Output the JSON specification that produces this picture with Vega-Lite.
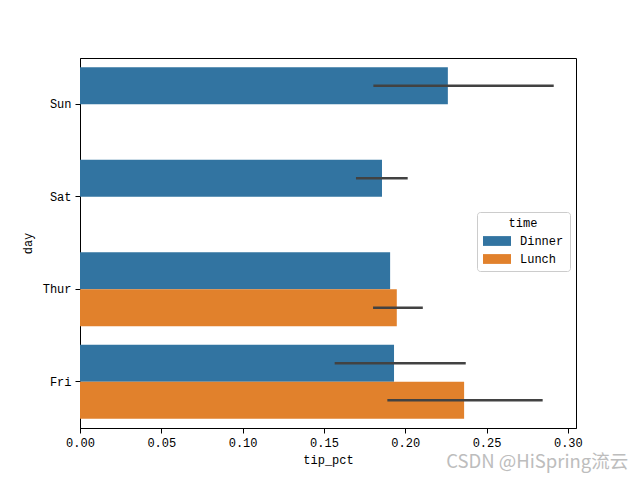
{
  "$schema": "https://vega.github.io/schema/vega-lite/v6.json",
  "width": 496,
  "height": 370,
  "autosize": {"type": "none"},
  "padding": {"left": 80, "top": 58, "right": 64, "bottom": 52},
  "background": "white",
  "title": {"text": "CSDN @HiSpring流云", "orient": "bottom", "anchor": "end", "offset": -12, "color": "#bdbdbd", "fontSize": 18.5, "font": "Noto Sans CJK SC", "fontWeight": "normal", "dx": 46},
  "config": {
    "view": {"stroke": "black", "strokeWidth": 1},
    "font": "Liberation Mono",
    "axis": {"domainColor": "black", "tickColor": "black", "labelColor": "black", "titleColor": "black", "labelFont": "Liberation Mono", "titleFont": "Liberation Mono", "labelFontSize": 12, "titleFontSize": 12, "titleFontWeight": "normal", "tickSize": 5, "grid": false}
  },
  "data": {"values": [
    {"day": "Sun", "time": "Dinner", "tip_pct": 0.2262, "lo": 0.1804, "hi": 0.2913},
    {"day": "Sat", "time": "Dinner", "tip_pct": 0.1857, "lo": 0.1697, "hi": 0.2015},
    {"day": "Thur", "time": "Dinner", "tip_pct": 0.1907, "lo": 0.1907, "hi": 0.1907},
    {"day": "Thur", "time": "Lunch", "tip_pct": 0.1948, "lo": 0.1802, "hi": 0.2108},
    {"day": "Fri", "time": "Dinner", "tip_pct": 0.1931, "lo": 0.1566, "hi": 0.2372},
    {"day": "Fri", "time": "Lunch", "tip_pct": 0.2362, "lo": 0.189, "hi": 0.2845}
  ]},
  "encoding": {
    "y": {"field": "day", "type": "nominal", "sort": ["Sun", "Sat", "Thur", "Fri"],
      "scale": {"domain": ["Sun", "Sat", "Thur", "Fri"], "paddingInner": 0.2, "paddingOuter": 0.1},
      "axis": {"title": "day", "titlePadding": 8, "labelPadding": 4}},
    "yOffset": {"field": "time", "type": "nominal", "scale": {"domain": ["Dinner", "Lunch"], "paddingInner": 0, "paddingOuter": 0}}
  },
  "layer": [
    {
      "mark": {"type": "bar", "cornerRadius": 0},
      "encoding": {
        "x": {"field": "tip_pct", "type": "quantitative", "scale": {"domain": [0, 0.305], "nice": false, "zero": true},
          "axis": {"title": "tip_pct", "values": [0, 0.05, 0.1, 0.15, 0.2, 0.25, 0.3], "format": ".2f", "labelPadding": 4, "titlePadding": 6, "labelFlush": false}},
        "color": {"field": "time", "type": "nominal",
          "scale": {"domain": ["Dinner", "Lunch"], "range": ["#3274a1", "#e1812c"]},
          "legend": {"orient": "none", "legendX": 397, "legendY": 154, "title": "time", "titleAnchor": "middle", "titleFont": "Liberation Mono", "titleFontWeight": "normal", "titleFontSize": 12, "titlePadding": 4, "labelFont": "Liberation Mono", "labelFontSize": 12, "labelColor": "black", "titleColor": "black",
            "symbolType": "M-1,-0.7H3V0.7H-1Z", "symbolSize": 196, "symbolStrokeWidth": 0, "symbolOpacity": 1,
            "strokeColor": "#cccccc", "fillColor": "white", "padding": 6, "cornerRadius": 3, "rowPadding": 5, "labelOffset": 23, "offset": 0}}
      }
    },
    {
      "mark": {"type": "rule", "color": "#424242", "strokeWidth": 2.7},
      "encoding": {
        "x": {"field": "lo", "type": "quantitative"},
        "x2": {"field": "hi"}
      }
    }
  ]
}
